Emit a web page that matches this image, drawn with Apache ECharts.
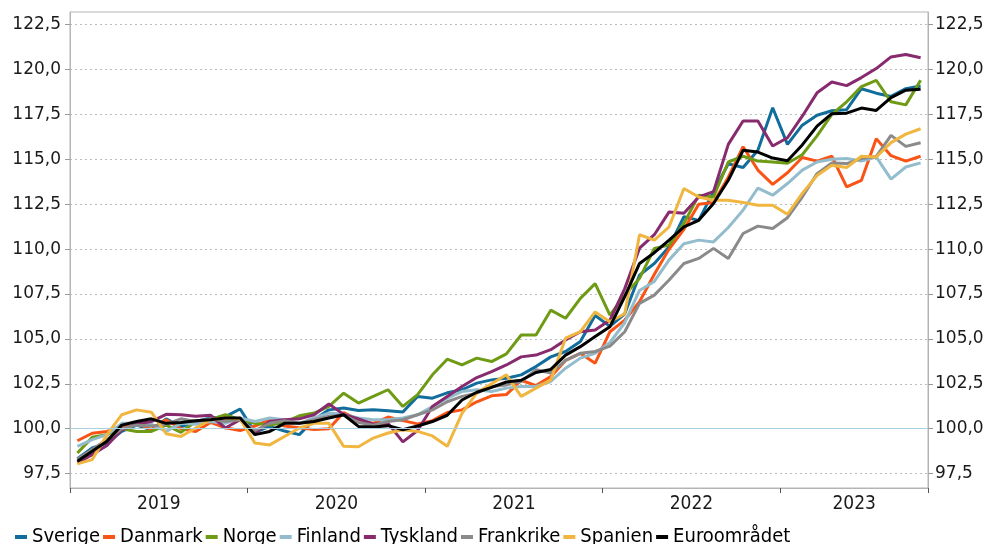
<!DOCTYPE html>
<html>
<head>
<meta charset="utf-8">
<script src="https://cdn.jsdelivr.net/npm/echarts@6/dist/echarts.min.js"></script>
<style>
  html, body { margin: 0; padding: 0; background: #fff; }
  #chart { width: 988px; height: 544px; }
</style>
</head>
<body>
<div id="chart"></div>
<script>
// månader jan 2019 - okt 2023
var months = [];
for (var y = 2019; y <= 2023; y++) {
  for (var m = 1; m <= 12; m++) {
    if (y === 2023 && m > 10) break;
    months.push(y + '-' + (m < 10 ? '0' + m : m));
  }
}

var sverige = [98.33, 98.93, 99.2, 99.85, 100.2, 99.94, 100.55, 100.1, 100.4, 100.6, 100.67, 101.1,
  99.8, 100.13, 99.87, 99.67, 100.5, 101.05, 101.15, 101.02, 101.05, 101.0, 100.93, 101.8,
  101.7, 102.0, 102.17, 102.54, 102.72, 102.81, 103.0, 103.46, 104.0, 104.3, 104.85, 106.3,
  105.7, 106.4, 108.55, 109.2, 110.13, 111.8, 111.6, 113.2, 114.75, 114.54, 115.5, 117.87,
  115.83, 116.9, 117.45, 117.7, 117.76, 118.93, 118.68, 118.5, 118.93, 119.08];
var danmark = [99.33, 99.75, 99.85, 100.1, 100.3, 99.95, 100.5, 100.0, 99.85, 100.35, 100.05, 99.9,
  100.15, 100.5, 100.15, 100.05, 99.95, 100.0, 100.9, 100.5, 100.3, 100.65, 100.45, 100.27,
  100.45, 100.9, 101.05, 101.5, 101.83, 101.9, 102.7, 102.4, 102.9, 103.8, 104.2, 103.65,
  105.4, 106.05, 107.07, 108.6, 110.0, 111.1, 112.5, 112.6, 114.0, 115.7, 114.4, 113.6,
  114.25, 115.1, 114.9, 115.17, 113.46, 113.83, 116.15, 115.2, 114.9, 115.17];
var norge = [98.65, 99.52, 99.67, 100.0, 99.85, 99.85, 100.2, 99.8, 100.4, 100.5, 100.78, 100.5,
  100.3, 100.2, 100.35, 100.72, 100.87, 101.24, 101.98, 101.43, 101.8, 102.17, 101.24, 101.9,
  103.0, 103.87, 103.55, 103.93, 103.74, 104.17, 105.22, 105.22, 106.6, 106.15, 107.26, 108.08,
  106.33, 107.44, 108.37, 110.04, 110.22, 111.43, 113.0, 112.9, 114.85, 115.17, 114.9, 114.85,
  114.78, 115.25, 116.3, 117.5, 118.2, 119.05, 119.4, 118.2, 118.03, 119.4];
var finland = [99.02, 99.39, 99.67, 100.3, 100.3, 100.25, 99.85, 100.3, 100.25, 100.4, 100.3, 100.6,
  100.4, 100.6, 100.5, 100.3, 100.6, 100.87, 100.8, 100.6, 100.5, 100.5, 100.6, 100.78,
  101.24, 101.7, 102.07, 102.17, 102.07, 102.26, 102.35, 102.35, 102.63, 103.37, 103.93, 104.2,
  104.8, 105.9, 107.7, 108.2, 109.4, 110.3, 110.5, 110.4, 111.2, 112.17, 113.4, 113.0,
  113.65, 114.4, 114.85, 115.0, 115.04, 114.9, 115.13, 113.9, 114.57, 114.8];
var tyskland = [98.1, 98.56, 99.07, 99.94, 100.26, 100.4, 100.8, 100.78, 100.7, 100.75, 100.04, 100.5,
  99.75, 100.4, 100.5, 100.55, 100.78, 101.38, 100.8, 100.55, 100.25, 100.3, 99.27, 99.9,
  101.24, 101.8, 102.35, 102.85, 103.18, 103.55, 104.0, 104.1, 104.4, 104.94, 105.4, 105.5,
  106.05, 107.8, 110.05, 110.8, 112.07, 112.0, 112.9, 113.2, 115.83, 117.13, 117.13, 115.74,
  116.2, 117.4, 118.7, 119.3, 119.1, 119.55, 120.05, 120.7, 120.83, 120.65];
var frankrike = [98.3, 98.85, 99.4, 100.0, 100.2, 100.15, 100.25, 100.55, 100.4, 100.55, 100.4, 100.5,
  99.9, 100.3, 100.45, 100.3, 100.5, 100.7, 100.75, 100.35, 100.2, 100.4, 100.5, 100.78,
  101.05, 101.5, 101.8, 101.98, 102.35, 102.44, 102.63, 103.28, 103.1, 103.8, 104.2, 104.3,
  104.6, 105.4, 106.98, 107.44, 108.28, 109.2, 109.48, 110.04, 109.48, 110.87, 111.28, 111.15,
  111.75, 112.9, 114.2, 114.8, 114.76, 115.04, 115.15, 116.33, 115.72, 115.92];
var spanien = [98.04, 98.28, 99.67, 100.78, 101.05, 100.92, 99.72, 99.57, 100.04, 100.5, 100.6, 100.55,
  99.2, 99.1, 99.57, 100.04, 100.3, 100.3, 99.02, 99.0, 99.48, 99.76, 99.94, 99.85,
  99.6, 99.02, 100.85, 102.0, 102.5, 103.0, 101.8, 102.26, 102.72, 105.04, 105.4, 106.5,
  105.96, 106.4, 110.8, 110.5, 111.24, 113.37, 112.9, 112.72, 112.72, 112.6, 112.44, 112.44,
  111.94, 113.1, 114.1, 114.67, 114.54, 115.17, 115.13, 115.93, 116.4, 116.7];
var euro = [98.19, 98.74, 99.3, 100.2, 100.4, 100.55, 100.3, 100.35, 100.45, 100.5, 100.6, 100.6,
  99.67, 99.85, 100.3, 100.3, 100.4, 100.6, 100.78, 100.13, 100.1, 100.17, 99.94, 100.15,
  100.4, 100.75, 101.6, 102.03, 102.3, 102.6, 102.7, 103.13, 103.3, 104.1, 104.57, 105.13,
  105.68, 107.35, 109.2, 109.8, 110.5, 111.24, 111.6, 112.54, 113.83, 115.5, 115.4, 115.07,
  114.92, 115.8, 116.85, 117.54, 117.57, 117.85, 117.72, 118.43, 118.85, 118.9];

var names = ['Sverige', 'Danmark', 'Norge', 'Finland', 'Tyskland', 'Frankrike', 'Spanien', 'Euroområdet'];
var colors = ['#116e9c', '#f95316', '#6f9b14', '#93bccd', '#872a6e', '#8a8a8a', '#f1b640', '#000000'];
var values = [sverige, danmark, norge, finland, tyskland, frankrike, spanien, euro];

// årsetikett mitt i varje år (index för mitten av tillgängliga månader)
var labelIdx = [];
for (var yr = 2019; yr <= 2023; yr++) {
  var f = months.indexOf(yr + '-01');
  var l = f;
  while (l + 1 < months.length && months[l + 1].slice(0, 4) === String(yr)) l++;
  labelIdx.push(Math.floor((f + l) / 2));
}

var condensed = "'DejaVu Sans Condensed', 'Liberation Sans Narrow', sans-serif";

function yLabel(v) {
  if (Math.abs(v / 2.5 - Math.round(v / 2.5)) > 1e-6) return '';
  return v.toFixed(1).replace('.', ',');
}

var yAxisBase = {
  type: 'value',
  min: 96.7,
  max: 123.2,
  minInterval: 2.5,
  maxInterval: 2.5,
  axisLine: { show: true, lineStyle: { color: '#b4b4b4' } },
  axisTick: { show: true, length: 5, lineStyle: { color: '#9a9a9a' } },
  axisLabel: {
    formatter: yLabel, color: '#1a1a1a', fontSize: 17,
    fontFamily: "'DejaVu Sans', sans-serif",
    showMinLabel: false, showMaxLabel: false
  },
  splitLine: {
    show: true, showMinLine: false, showMaxLine: false,
    lineStyle: { color: '#bdbdbd', type: [2, 3], width: 1 }
  }
};

var series = names.map(function (n, i) {
  var s = {
    name: n,
    type: 'line',
    data: values[i],
    symbol: 'none',
    lineStyle: { width: 3, color: colors[i] },
    itemStyle: { color: colors[i] }
  };
  if (i === 0) {
    s.markLine = {
      silent: true,
      symbol: 'none',
      label: { show: false },
      lineStyle: { color: '#a8d0e0', width: 1, type: 'solid' },
      data: [{ yAxis: 100 }]
    };
  }
  return s;
});

var chart = echarts.init(document.getElementById('chart'));
chart.setOption({
  animation: false,
  grid: {
    left: 70, right: 60, top: 12, bottom: 56,
    show: true, borderColor: '#b4b4b4', borderWidth: 1
  },
  legend: {
    data: names,
    left: 10,
    top: 522,
    icon: 'rect',
    itemWidth: 12,
    itemHeight: 4,
    itemGap: 3,
    textStyle: { color: '#000', fontSize: 20, fontFamily: condensed }
  },
  xAxis: {
    type: 'category',
    data: months,
    boundaryGap: true,
    axisLine: { show: true, lineStyle: { color: '#b4b4b4' } },
    axisTick: {
      show: true, length: 5, alignWithLabel: false,
      interval: function (idx) { return idx % 12 === 0; },
      lineStyle: { color: '#555' }
    },
    axisLabel: {
      interval: function (idx) { return labelIdx.indexOf(idx) >= 0; },
      formatter: function (v) { return v.slice(0, 4); },
      padding: [0, 0, 0, 15],
      margin: 7,
      color: '#1a1a1a',
      fontSize: 19,
      fontFamily: condensed
    },
    splitLine: { show: false }
  },
  yAxis: [
    Object.assign({}, yAxisBase, { position: 'left', axisLabel: Object.assign({}, yAxisBase.axisLabel, { margin: 9 }) }),
    Object.assign({}, yAxisBase, { position: 'right', axisLabel: Object.assign({}, yAxisBase.axisLabel, { margin: 7 }) })
  ],
  series: series
});
</script>
</body>
</html>
